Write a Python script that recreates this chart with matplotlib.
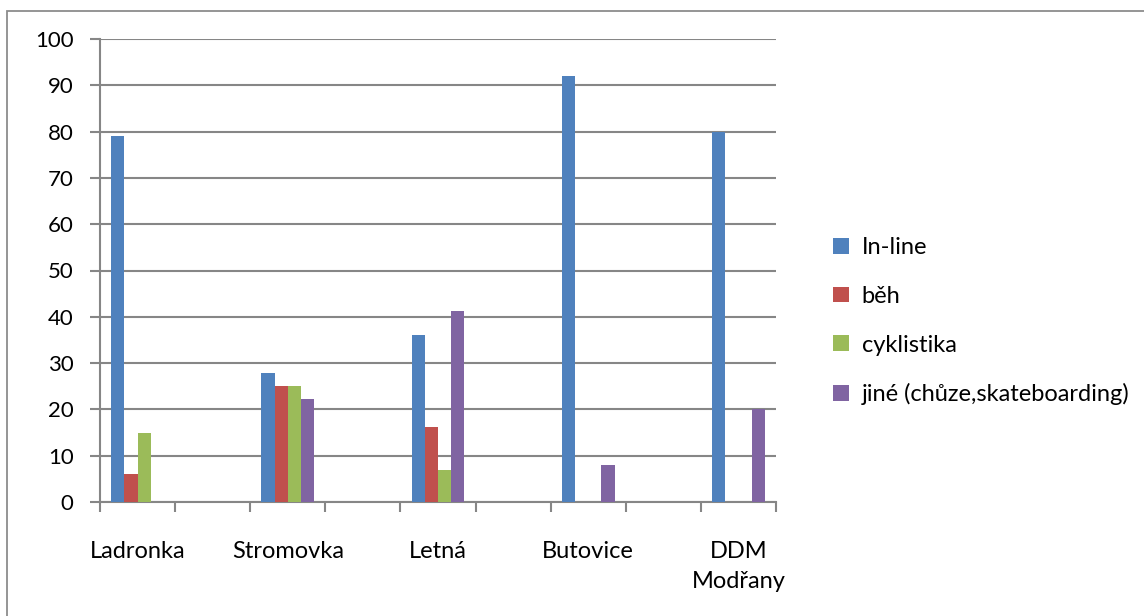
import matplotlib
matplotlib.use("Agg")
import matplotlib.pyplot as plt
from matplotlib.patches import Rectangle, Patch
import numpy as np

plt.rcParams['font.family'] = ['Lato', 'DejaVu Sans']

# Category slots along the x axis (blank slots separate the locations)
categories = ["Ladronka", "", "Stromovka", "", "Letná", "", "Butovice", "", "DDM\nModřany"]
series_names = ["In-line", "běh", "cyklistika", "jiné (chůze,skateboarding)"]

inline_vals     = [79, None, 27.8, None, 36, None, 92, None, 80]
beh_vals        = [6, None, 25, None, 16.2, None, None, None, None]
cyklistika_vals = [15, None, 25, None, 7, None, None, None, None]
jine_vals       = [None, None, 22.2, None, 41.2, None, 8, None, 20]

y_ticks = [0, 10, 20, 30, 40, 50, 60, 70, 80, 90, 100]

colors = ["#4F81BD", "#C0504D", "#9BBB59", "#8064A2"]
grid_gray = "#868686"

W, H = 1144, 616
fig = plt.figure(figsize=(W / 100, H / 100), dpi=100)
fig.patch.set_facecolor("white")

# chart-area frame
fig.patches.append(Rectangle((7 / W, -0.1), 1.2, 1 - 11 / H + 0.1,
                             transform=fig.transFigure, fill=False,
                             edgecolor="#8c8c8c", linewidth=1.3))

ax = fig.add_axes([100 / W, 1 - 502 / H, 676 / W, 463 / H])

n = len(categories)
x = np.arange(n)
bw = 0.176
all_series = [inline_vals, beh_vals, cyklistika_vals, jine_vals]
for i, (vals, col, name) in enumerate(zip(all_series, colors, series_names)):
    heights = [v if v is not None else 0 for v in vals]
    ax.bar(x + (i - 1.5) * bw, heights, width=bw, color=col, label=name,
           linewidth=0, zorder=3)

ax.set_xlim(-0.5, n - 0.5)
ax.set_ylim(0, 100)
ax.set_yticks(y_ticks)
ax.set_yticklabels([str(t) for t in y_ticks])
ax.set_xticks(np.arange(-0.5, n, 1.0))
ax.set_xticklabels([])
ax.set_xticks(x, minor=True)
ax.set_xticklabels(categories, minor=True)

ax.yaxis.grid(True, color=grid_gray, linewidth=1.5, zorder=0)
ax.set_axisbelow(True)
for side in ["top", "right"]:
    ax.spines[side].set_visible(False)
for side in ["left", "bottom"]:
    ax.spines[side].set_color(grid_gray)
    ax.spines[side].set_linewidth(1.5)

ax.tick_params(axis="y", which="major", length=7, width=1.5, color=grid_gray,
               labelsize=16, pad=12)
ax.tick_params(axis="x", which="major", length=7, width=1.5, color=grid_gray,
               direction="out")
ax.tick_params(axis="x", which="minor", length=0, labelsize=17, pad=28)
for lab in ax.get_xticklabels(minor=True):
    lab.set_linespacing(1.55)

handles = [Patch(facecolor=c, edgecolor="none") for c in colors]
fig.legend(handles, series_names, loc="upper left",
           bbox_to_anchor=(812 / W, 1 - 216 / H), frameon=False,
           fontsize=17, handlelength=0.65, handleheight=0.65,
           handletextpad=0.55, labelspacing=1.17)

fig.savefig("out.png", dpi=100, facecolor="white")
